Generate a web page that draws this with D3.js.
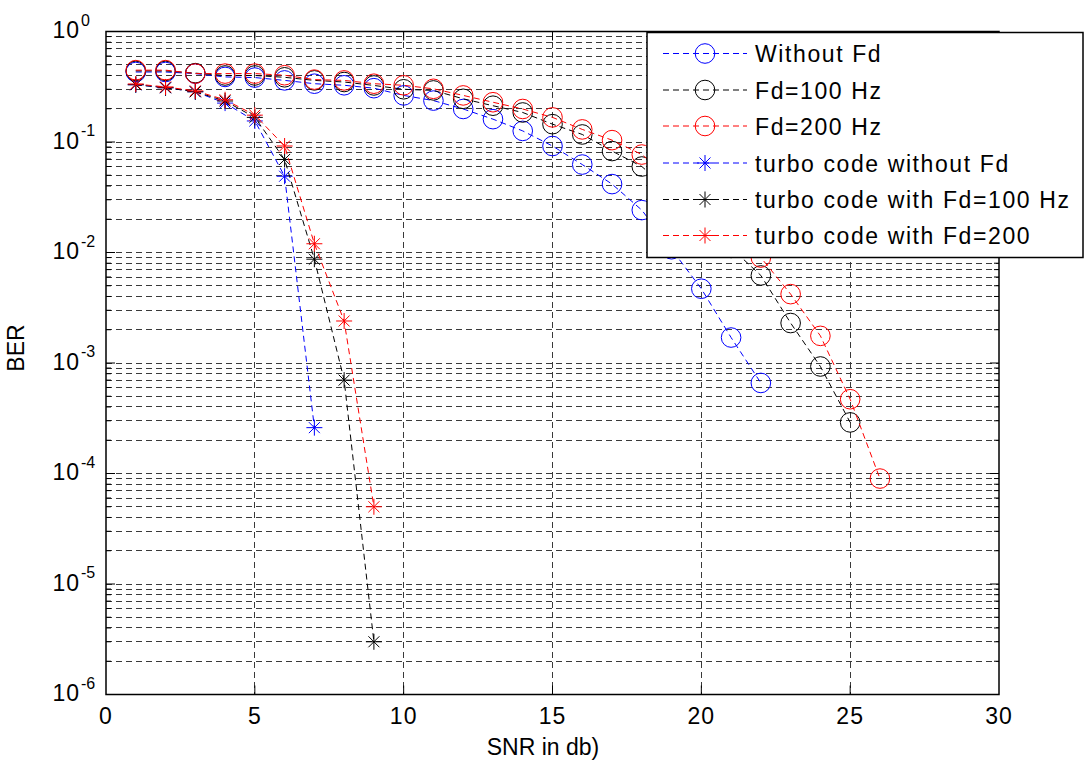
<!DOCTYPE html>
<html>
<head>
  <meta charset="utf-8">
  <title>BER vs SNR</title>
  <script src="https://cdn.jsdelivr.net/npm/d3@7/dist/d3.min.js"></script>
  <style>
    body { margin: 0; background: #fff; }
    text { font-family: "Liberation Sans", Arial, sans-serif; fill: #000; }
    .tick-label { font-size: 23px; letter-spacing: 1px; }
    .sup { font-size: 16px; }
    .axis-label { font-size: 23px; }
    .legend-text { font-size: 23px; letter-spacing: 1.6px; }
    .grid line { stroke: #3a3a3a; stroke-width: 1; stroke-dasharray: 6,4; shape-rendering: crispEdges; }
  </style>
</head>
<body>
  <svg id="chart"></svg>
  <script>
    // values
    var snrWithout = d3.range(1, 23);
    var berWithout = [0.43, 0.43, 0.416, 0.388, 0.383, 0.361, 0.337, 0.326, 0.307, 0.264, 0.237,
      0.199, 0.161, 0.126, 0.092, 0.0625, 0.0416, 0.0242, 0.0107, 0.0047, 0.0017, 0.00066];

    var snr100 = d3.range(1, 26);
    var ber100 = [0.44, 0.44, 0.42, 0.40, 0.40, 0.385, 0.361, 0.349, 0.325, 0.30, 0.293,
      0.246, 0.213, 0.185, 0.145, 0.117, 0.0828, 0.060, 0.035, 0.020, 0.011, 0.0062,
      0.0023, 0.00093, 0.00029];

    var snr200 = d3.range(1, 27);
    var ber200 = [0.447, 0.447, 0.416, 0.416, 0.416, 0.402, 0.367, 0.361, 0.337, 0.326, 0.303,
      0.264, 0.229, 0.199, 0.167, 0.13, 0.104, 0.077, 0.046, 0.027, 0.0155, 0.009,
      0.0042, 0.00176, 0.00047, 0.00009];

    var snrTurboWithout = d3.range(1, 8);
    var berTurboWithout = [0.33, 0.31, 0.285, 0.225, 0.155, 0.049, 0.00026];

    var snrTurbo100 = d3.range(1, 10);
    var berTurbo100 = [0.33, 0.31, 0.285, 0.235, 0.167, 0.0695, 0.0087, 0.0007, 0.000003];

    var snrTurbo200 = d3.range(1, 10);
    var berTurbo200 = [0.335, 0.315, 0.29, 0.241, 0.175, 0.092, 0.012, 0.0024, 0.00005];

    var seriesNames = ['Without Fd', 'Fd=100 Hz', 'Fd=200 Hz', 'turbo code without Fd',
      'turbo code with Fd=100 Hz', 'turbo code with Fd=200'];
    var seriesColors = ['#0000ff', '#000000', '#ff0000', '#0000ff', '#000000', '#ff0000'];
    var seriesMarkers = ['circle', 'circle', 'circle', 'star', 'star', 'star'];

    var xTicks = [0, 5, 10, 15, 20, 25, 30];
    var yExponents = [0, -1, -2, -3, -4, -5, -6];

    var series = [
      [snrWithout, berWithout], [snr100, ber100], [snr200, ber200],
      [snrTurboWithout, berTurboWithout], [snrTurbo100, berTurbo100], [snrTurbo200, berTurbo200]
    ].map(function (s, i) {
      return {
        name: seriesNames[i], color: seriesColors[i], marker: seriesMarkers[i],
        values: s[0].map(function (x, j) { return { x: x, y: s[1][j] }; })
      };
    });

    var margin = { top: 31.5, left: 106, bottom: 68.5, right: 89 },
      width = 1088 - margin.left - margin.right,
      height = 763 - margin.top - margin.bottom;

    var svgRoot = d3.select('#chart')
      .attr('width', 1088)
      .attr('height', 763);

    var svg = svgRoot.append('g')
      .attr('transform', 'translate(' + margin.left + ',' + margin.top + ')');

    var x = d3.scaleLinear().domain([0, 30]).range([0, width]);
    var y = d3.scaleLog().domain([1e-6, 1]).range([height, 0]);

    // minor + major values for horizontal grid
    var yGridVals = [];
    for (var e = -6; e < 0; e++) {
      for (var m = 1; m <= 9; m++) yGridVals.push(m * Math.pow(10, e));
    }
    var yMinor = yGridVals.filter(function (v) { return Math.abs(Math.log10(v) - Math.round(Math.log10(v))) > 1e-9; });

    var grid = svg.append('g').attr('class', 'grid');
    grid.selectAll('.hg')
      .data(yGridVals.filter(function (v) { return v > 1e-6; }))
      .enter().append('line')
      .attr('x1', 0).attr('x2', width)
      .attr('y1', function (d) { return y(d); })
      .attr('y2', function (d) { return y(d); });
    grid.selectAll('.vg')
      .data(xTicks.slice(1, -1))
      .enter().append('line')
      .attr('y1', 0).attr('y2', height)
      .attr('x1', function (d) { return x(d); })
      .attr('x2', function (d) { return x(d); });

    // ticks inside the box, both sides
    var ticks = svg.append('g').attr('stroke', '#000').attr('stroke-width', 1);
    xTicks.slice(1, -1).forEach(function (t) {
      ticks.append('line').attr('x1', x(t)).attr('x2', x(t)).attr('y1', height).attr('y2', height - 9);
      ticks.append('line').attr('x1', x(t)).attr('x2', x(t)).attr('y1', 0).attr('y2', 9);
    });
    yExponents.forEach(function (ex) {
      var v = Math.pow(10, ex);
      ticks.append('line').attr('x1', 0).attr('x2', 9).attr('y1', y(v)).attr('y2', y(v));
      ticks.append('line').attr('x1', width).attr('x2', width - 9).attr('y1', y(v)).attr('y2', y(v));
    });
    yMinor.forEach(function (v) {
      ticks.append('line').attr('x1', 0).attr('x2', 5).attr('y1', y(v)).attr('y2', y(v));
      ticks.append('line').attr('x1', width).attr('x2', width - 5).attr('y1', y(v)).attr('y2', y(v));
    });

    // tick labels
    svg.selectAll('.xl')
      .data(xTicks)
      .enter().append('text')
      .attr('class', 'tick-label')
      .attr('x', function (d) { return x(d); })
      .attr('y', height + 29)
      .attr('text-anchor', 'middle')
      .text(function (d) { return d; });

    var yl = svg.selectAll('.yl')
      .data(yExponents)
      .enter().append('g')
      .attr('transform', function (d) { return 'translate(-26,' + y(Math.pow(10, d)) + ')'; });
    yl.append('text')
      .attr('class', 'tick-label')
      .attr('y', 6.5)
      .attr('text-anchor', 'end')
      .text('10');
    yl.append('text')
      .attr('class', 'sup')
      .attr('x', 1)
      .attr('y', -6)
      .text(function (d) { return d; });

    // series
    var line = d3.line()
      .x(function (d) { return x(d.x); })
      .y(function (d) { return y(d.y); });

    function drawMarker(g, type, color) {
      if (type === 'circle') {
        g.append('circle').attr('r', 9.8).attr('fill', 'none').attr('stroke', color).attr('stroke-width', 1);
      } else {
        var s = 8, d = 5.5;
        g.append('path')
          .attr('d', 'M' + (-s) + ',0H' + s + 'M0,' + (-s) + 'V' + s +
            'M' + (-d) + ',' + (-d) + 'L' + d + ',' + d + 'M' + (-d) + ',' + d + 'L' + d + ',' + (-d))
          .attr('stroke', color).attr('stroke-width', 1).attr('fill', 'none');
      }
    }

    series.forEach(function (s) {
      var g = svg.append('g');
      g.append('path')
        .datum(s.values)
        .attr('d', line)
        .attr('fill', 'none')
        .attr('stroke', s.color)
        .attr('stroke-width', 1)
        .attr('stroke-dasharray', '6,4');
      g.selectAll('.m')
        .data(s.values)
        .enter().append('g')
        .attr('transform', function (d) { return 'translate(' + x(d.x) + ',' + y(d.y) + ')'; })
        .each(function () { drawMarker(d3.select(this), s.marker, s.color); });
    });

    // box
    svg.append('rect')
      .attr('width', width).attr('height', height)
      .attr('fill', 'none').attr('stroke', '#000').attr('stroke-width', 1.5);

    // axis labels
    svgRoot.append('text')
      .attr('class', 'axis-label')
      .attr('x', 543)
      .attr('y', 755)
      .attr('text-anchor', 'middle')
      .text('SNR in db)');

    svgRoot.append('text')
      .attr('class', 'axis-label')
      .attr('transform', 'translate(24,348) rotate(-90)')
      .attr('text-anchor', 'middle')
      .text('BER');

    // legend
    var legend = svgRoot.append('g').attr('transform', 'translate(647,32.5)');
    legend.append('rect')
      .attr('width', 436).attr('height', 225)
      .attr('fill', '#fff').attr('stroke', '#000').attr('stroke-width', 1.5);
    var rowY = [21, 57.5, 93.5, 130.5, 167, 203];
    series.forEach(function (s, i) {
      var row = legend.append('g').attr('transform', 'translate(0,' + rowY[i] + ')');
      row.append('line')
        .attr('x1', 16).attr('x2', 100)
        .attr('stroke', s.color).attr('stroke-width', 1).attr('stroke-dasharray', '6,4');
      var mk = row.append('g').attr('transform', 'translate(58,0)');
      drawMarker(mk, s.marker, s.color);
      row.append('text')
        .attr('class', 'legend-text')
        .attr('x', 108)
        .attr('y', 8.5)
        .text(s.name);
    });
  </script>
</body>
</html>
